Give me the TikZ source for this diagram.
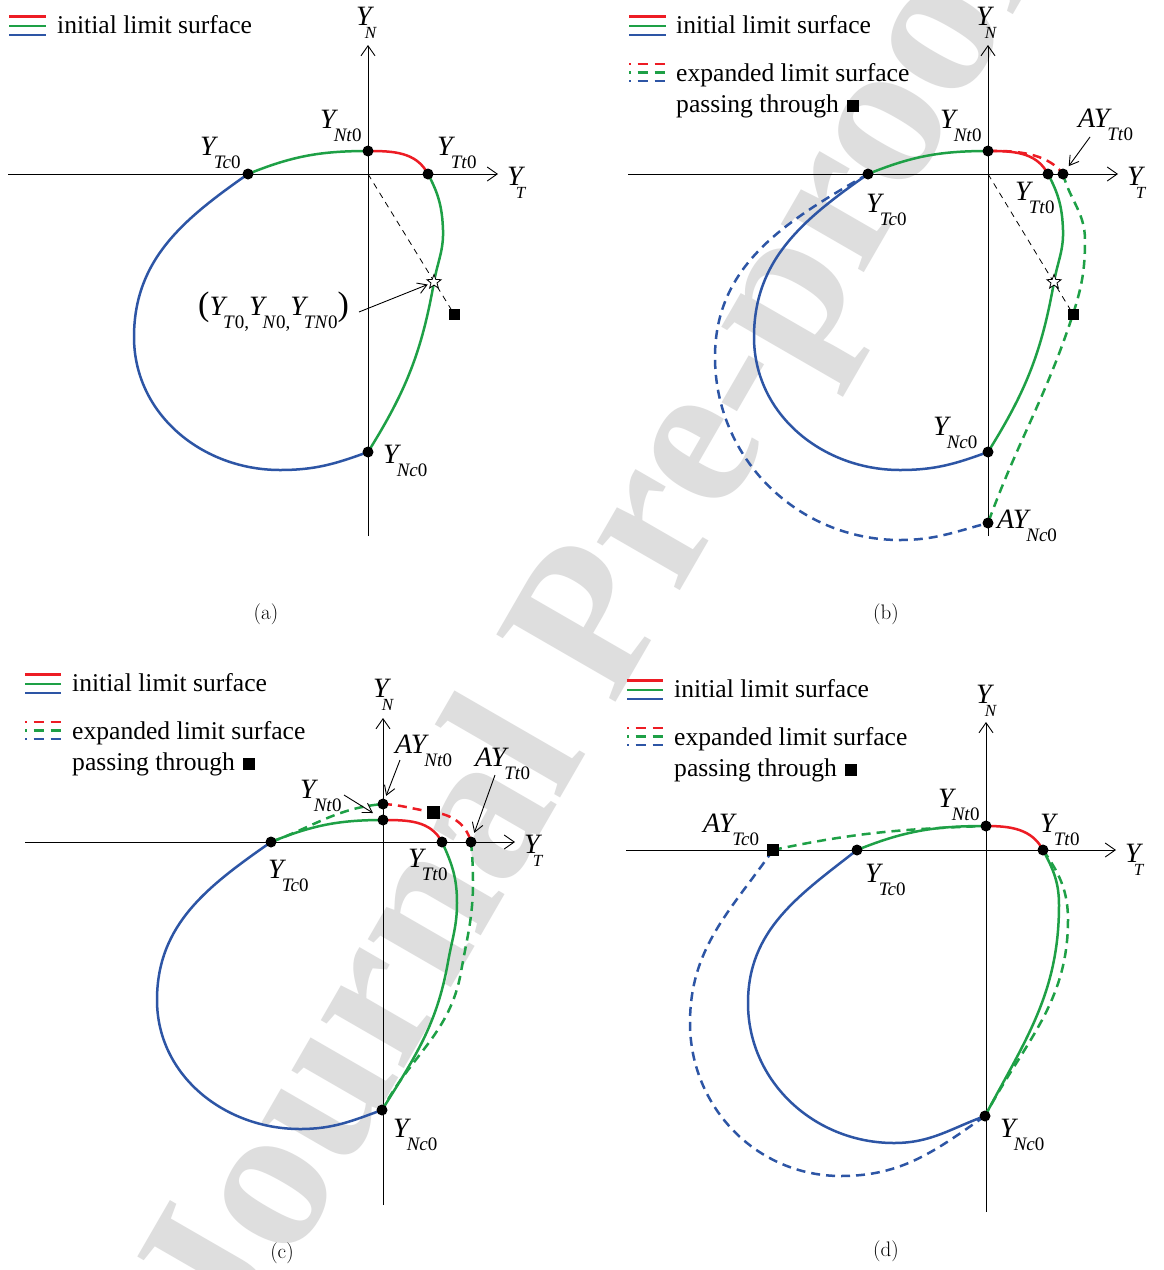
\documentclass[tikz,border=0pt]{standalone}
\usepackage{fontspec}
\newfontfamily\tnr{Liberation Serif}
\usetikzlibrary{arrows.meta,shapes.geometric}
\definecolor{cR}{RGB}{237,28,36}
\definecolor{cG}{RGB}{30,160,70}
\definecolor{cB}{RGB}{45,85,165}
\newcommand\lbl[3]{{\fontsize{28}{28}\selectfont\itshape #1Y}\kern#3\raisebox{-13pt}{\fontsize{19}{19}\selectfont #2}}
\newcommand\axl[1]{{\fontsize{28}{28}\selectfont\itshape Y}\kern-7pt\raisebox{-13pt}{\fontsize{17}{17}\selectfont\itshape #1}}
\begin{document}
\begin{tikzpicture}[x=1pt,y=1pt,
  ax/.style={line width=0.9pt,-{Straight Barb[length=10pt,width=14pt]}},
  pt/.style={circle,fill=black,inner sep=0pt,minimum size=11pt},
  sq/.style={rectangle,fill=black,inner sep=0pt,minimum size=11pt},
  cv/.style={line width=2.5pt},
  dcv/.style={line width=2.5pt,dash pattern=on 9pt off 6pt},
  lab/.style={anchor=base west,inner sep=0pt,font=\tnr},
  txt/.style={anchor=base west,inner sep=0pt,font=\tnr\fontsize{25.6}{30}\selectfont},
  capt/.style={inner sep=0pt,font=\fontsize{21}{21}\selectfont},
  ptr/.style={line width=0.9pt,-{Straight Barb[length=9pt,width=11pt]}},
  guide/.style={line width=0.8pt,dash pattern=on 6pt off 5pt},
  starn/.style={star,star points=5,star point ratio=2.4,draw,fill=white,inner sep=0pt,minimum size=15pt,line width=0.8pt},
  leg/.style={line width=2.5pt},
  dleg/.style={line width=2.5pt,dash pattern=on 10.5pt off 6.5pt,dash phase=8.5pt}
]
\fill[white] (0,0) rectangle (1163,-1270);
\useasboundingbox (0,0) rectangle (1163,-1270);
% watermark
\node[rotate=60,anchor=base west,inner sep=0pt,text=black!13,font=\tnr\bfseries\fontsize{209}{209}\selectfont] (wm) at (239,-1355) {Journal Pre-proof};

% ================= panel (a)
\begin{scope}[shift={(368,-174)}]
  \coordinate (aO) at (0,0);
  \coordinate (aNt) at (0,23);
  \coordinate (aTt) at (60,0);
  \coordinate (aTc) at (-120,0);
  \coordinate (aNc) at (0,-278);
  \coordinate (aStc) at (66,-108);
  \coordinate (aHl) at (-360,0); \coordinate (aHr) at (130,0);
  \coordinate (aVb) at (0,-362); \coordinate (aVt) at (0,129);
  \draw[ax] (aHl) -- (aHr);
  \draw[ax] (aVb) -- (aVt);
  \node[sq] (aSq) at (86,-140) {};
  \draw[guide] (aO) -- (aSq.center);
  \draw[cv,cR] (aNt) to[out=0,in=118] (aTt);
  \draw[cv,cG] (aTc) to[out=22,in=180] (aNt);
  \draw[cv,cG] (aTt) to[out=-62,in=92] (75,-56) to[out=-88,in=80] (aStc) to[out=-100,in=58] (aNc);
  \draw[cv,cB] (aTc) to[out=215,in=90] (-234,-163) to[out=-90,in=180] (-88,-296) to[out=0,in=200] (aNc);
  \node[starn] (aSt) at (aStc) {};
  \node[pt] (aNtd) at (aNt) {};
  \node[pt] (aTtd) at (aTt) {};
  \node[pt] (aTcd) at (aTc) {};
  \node[pt] (aNcd) at (aNc) {};
\end{scope}
\draw[leg,cR] (9,-16.5) -- (46,-16.5);
\draw[leg,cG] (9,-26) -- (46,-26);
\draw[leg,cB] (9,-35) -- (46,-35);
\node[txt] (aL1) at (57,-33) {initial limit surface};
\node[lab] (aYN) at (356,-25) {\axl{N}};
\node[lab] (aYT) at (507,-185) {\axl{T}};
\node[lab] (aYNt) at (320,-128) {\lbl{}{\textit{Nt}0}{-2pt}};
\node[lab] (aYTc) at (200,-155) {\lbl{}{\textit{Tc}0}{-2pt}};
\node[lab] (aYTt) at (437,-155) {\lbl{}{\textit{Tt}0}{-2pt}};
\node[lab] (aYNc) at (383,-463) {\lbl{}{\textit{Nc}0}{-2pt}};
\node[lab] (aTup) at (198,-315) {{\fontsize{34}{34}\selectfont(}\lbl{}{\textit{T}0,}{-2pt}\lbl{}{\textit{N}0,}{-2pt}\lbl{}{\textit{TN}0}{-2pt}{\fontsize{34}{34}\selectfont)}};
\coordinate (aTupA) at (359,-312);
\draw[ptr,shorten >=3pt] (aTupA) -- (aSt);
\node[capt] (aCap) at (266,-614) {(a)};

% ================= panel (b)
\begin{scope}[shift={(988,-174)}]
  \coordinate (bO) at (0,0);
  \coordinate (bNt) at (0,23);
  \coordinate (bTt) at (60,0);
  \coordinate (bATt) at (75,0);
  \coordinate (bTc) at (-120,0);
  \coordinate (bNc) at (0,-278);
  \coordinate (bANc) at (0,-349);
  \coordinate (bStc) at (66,-108);
  \coordinate (bSqc) at (85,-140);
  \coordinate (bHl) at (-360,0); \coordinate (bHr) at (130,0);
  \coordinate (bVb) at (0,-362); \coordinate (bVt) at (0,129);
  \draw[ax] (bHl) -- (bHr);
  \draw[ax] (bVb) -- (bVt);
  \node[sq] (bSq) at (bSqc) {};
  \draw[guide] (bO) -- (bSq.center);
  \draw[dcv,cR] (bNt) .. controls (35,24) and (62,18) .. (bATt);
  \draw[dcv,cG] (bATt) to[out=-75,in=90] (97,-66) to[out=-90,in=72] (bSqc) to[out=-108,in=70] (bANc);
  \draw[dcv,cB] (bTc) to[out=210,in=90] (-273,-183) to[out=-90,in=180] (-88,-366) to[out=0,in=195] (bANc);
  \draw[cv,cR] (bNt) to[out=0,in=118] (bTt);
  \draw[cv,cG] (bTc) to[out=22,in=180] (bNt);
  \draw[cv,cG] (bTt) to[out=-62,in=92] (75,-56) to[out=-88,in=80] (bStc) to[out=-100,in=58] (bNc);
  \draw[cv,cB] (bTc) to[out=215,in=90] (-234,-163) to[out=-90,in=180] (-88,-296) to[out=0,in=200] (bNc);
  \node[sq] (bSq2) at (bSqc) {};
  \node[starn] (bSt) at (bStc) {};
  \node[pt] (bNtd) at (bNt) {};
  \node[pt] (bTtd) at (bTt) {};
  \node[pt] (bATtd) at (bATt) {};
  \node[pt] (bTcd) at (bTc) {};
  \node[pt] (bNcd) at (bNc) {};
  \node[pt] (bANcd) at (bANc) {};
\end{scope}
\draw[leg,cR] (629,-16.5) -- (666,-16.5);
\draw[leg,cG] (629,-26) -- (666,-26);
\draw[leg,cB] (629,-35) -- (666,-35);
\draw[dleg,cR] (629,-64) -- (666,-64);
\draw[dleg,cG] (629,-72.5) -- (666,-72.5);
\draw[dleg,cB] (629,-81) -- (666,-81);
\node[txt] (bL1) at (676,-33) {initial limit surface};
\node[txt] (bL2) at (676,-81) {expanded limit surface};
\node[txt] (bL3) at (676,-112) {passing through\hspace{8pt}\rule{12pt}{12pt}};
\node[lab] (bYN) at (976,-25) {\axl{N}};
\node[lab] (bYT) at (1127,-185) {\axl{T}};
\node[lab] (bYNt) at (940,-128) {\lbl{}{\textit{Nt}0}{-2pt}};
\node[lab] (bAYTt) at (1078,-127) {\lbl{\textit{A}}{\textit{Tt}0}{-2pt}};
\node[lab] (bYTt) at (1015,-200) {\lbl{}{\textit{Tt}0}{-2pt}};
\node[lab] (bYTc) at (866,-212) {\lbl{}{\textit{Tc}0}{-2pt}};
\node[lab] (bYNc) at (933,-435) {\lbl{}{\textit{Nc}0}{-2pt}};
\node[lab] (bAYNc) at (997,-528) {\lbl{\textit{A}}{\textit{Nc}0}{-2pt}};
\coordinate (bAYTtA) at (1090,-137);
\draw[ptr,shorten >=4pt] (bAYTtA) -- (bATtd);
\node[capt] (bCap) at (886,-614) {(b)};

% ================= panel (c)
\begin{scope}[shift={(383,-842)}]
  \coordinate (cNt) at (0,22);
  \coordinate (cANt) at (0,38);
  \coordinate (cTt) at (59,0);
  \coordinate (cATt) at (88,0);
  \coordinate (cTc) at (-112,0);
  \coordinate (cNc) at (-1,-268);
  \coordinate (cSqc) at (50,30);
  \coordinate (cTip) at (-10,29);
  \coordinate (cHl) at (-358,0); \coordinate (cHr) at (132,0);
  \coordinate (cVb) at (0,-363); \coordinate (cVt) at (0,124);
  \draw[ax] (cHl) -- (cHr);
  \draw[ax] (cVb) -- (cVt);
  \draw[dcv,cG] (cTc) to[out=20,in=185] (cANt);
  \draw[dcv,cR] (cANt) to[out=-3,in=172] (cSqc) to[out=-8,in=105] (cATt);
  \draw[dcv,cG] (cATt) to[out=-85,in=90] (90,-40) to[out=-90,in=80] (78,-130) to[out=-100,in=62] (cNc);
  \draw[cv,cR] (cNt) to[out=0,in=118] (cTt);
  \draw[cv,cG] (cTc) to[out=22,in=180] (cNt);
  \draw[cv,cG] (cTt) to[out=-65,in=90] (74,-61) to[out=-90,in=80] (65,-120) to[out=-100,in=58] (cNc);
  \draw[cv,cB] (cTc) to[out=215,in=90] (-226,-158) to[out=-90,in=180] (-83,-287) to[out=0,in=200] (cNc);
  \node[sq,minimum size=13pt] (cSq) at (cSqc) {};
  \node[pt] (cNtd) at (cNt) {};
  \node[pt] (cANtd) at (cANt) {};
  \node[pt] (cTtd) at (cTt) {};
  \node[pt] (cATtd) at (cATt) {};
  \node[pt] (cTcd) at (cTc) {};
  \node[pt] (cNcd) at (cNc) {};
\end{scope}
\draw[leg,cR] (25,-674.5) -- (61,-674.5);
\draw[leg,cG] (25,-684) -- (61,-684);
\draw[leg,cB] (25,-693) -- (61,-693);
\draw[dleg,cR] (25,-722) -- (61,-722);
\draw[dleg,cG] (25,-730.5) -- (61,-730.5);
\draw[dleg,cB] (25,-739) -- (61,-739);
\node[txt] (cL1) at (72,-691) {initial limit surface};
\node[txt] (cL2) at (72,-739) {expanded limit surface};
\node[txt] (cL3) at (72,-770) {passing through\hspace{8pt}\rule{12pt}{12pt}};
\node[lab] (cYN) at (373,-697) {\axl{N}};
\node[lab] (cYT) at (524,-853) {\axl{T}};
\node[lab] (cAYNt) at (395,-753) {\lbl{\textit{A}}{\textit{Nt}0}{-2pt}};
\node[lab] (cAYTt) at (475,-766) {\lbl{\textit{A}}{\textit{Tt}0}{-2pt}};
\node[lab] (cYNt) at (300,-798) {\lbl{}{\textit{Nt}0}{-2pt}};
\node[lab] (cYTt) at (408,-867) {\lbl{}{\textit{Tt}0}{-2pt}};
\node[lab] (cYTc) at (268,-878) {\lbl{}{\textit{Tc}0}{-2pt}};
\node[lab] (cYNc) at (393,-1137) {\lbl{}{\textit{Nc}0}{-2pt}};
\coordinate (cAYNtA) at (400,-760);
\coordinate (cAYTtA) at (495,-775);
\coordinate (cYNtA) at (344,-795);
\draw[ptr,shorten >=3pt] (cAYNtA) -- (cANtd);
\draw[ptr,shorten >=4pt] (cAYTtA) -- (cATtd);
\draw[ptr] (cYNtA) -- (cTip);
\node[capt] (cCap) at (282,-1253) {(c)};

% ================= panel (d)
\begin{scope}[shift={(986,-850)}]
  \coordinate (dNt) at (0,24);
  \coordinate (dTt) at (57,0);
  \coordinate (dTc) at (-129,0);
  \coordinate (dNc) at (-1,-266);
  \coordinate (dSqc) at (-213,0);
  \coordinate (dHl) at (-360,0); \coordinate (dHr) at (130,0);
  \coordinate (dVb) at (0,-362); \coordinate (dVt) at (0,128);
  \draw[ax] (dHl) -- (dHr);
  \draw[ax] (dVb) -- (dVt);
  \draw[dcv,cG] (dSqc) to[out=12,in=182] (dNt);
  \draw[dcv,cG] (dTt) to[out=-55,in=90] (82,-70) to[out=-90,in=62] (dNc);
  \draw[dcv,cB] (dSqc) to[out=235,in=90] (-296,-173) to[out=-90,in=180] (-145,-326) to[out=0,in=215] (dNc);
  \draw[cv,cR] (dNt) to[out=0,in=118] (dTt);
  \draw[cv,cG] (dTc) to[out=22,in=180] (dNt);
  \draw[cv,cG] (dTt) to[out=-62,in=90] (73,-55) to[out=-90,in=62] (dNc);
  \draw[cv,cB] (dTc) to[out=218,in=90] (-238,-153) to[out=-90,in=180] (-92,-293) to[out=0,in=200] (dNc);
  \node[sq,minimum size=12.5pt] (dSq) at (dSqc) {};
  \node[pt] (dNtd) at (dNt) {};
  \node[pt] (dTtd) at (dTt) {};
  \node[pt] (dTcd) at (dTc) {};
  \node[pt] (dNcd) at (dNc) {};
\end{scope}
\draw[leg,cR] (627,-680.5) -- (663,-680.5);
\draw[leg,cG] (627,-690) -- (663,-690);
\draw[leg,cB] (627,-699) -- (663,-699);
\draw[dleg,cR] (627,-728) -- (663,-728);
\draw[dleg,cG] (627,-736.5) -- (663,-736.5);
\draw[dleg,cB] (627,-745) -- (663,-745);
\node[txt] (dL1) at (674,-697) {initial limit surface};
\node[txt] (dL2) at (674,-745) {expanded limit surface};
\node[txt] (dL3) at (674,-776) {passing through\hspace{8pt}\rule{12pt}{12pt}};
\node[lab] (dYN) at (976,-703) {\axl{N}};
\node[lab] (dYT) at (1125,-862) {\axl{T}};
\node[lab] (dYNt) at (938,-807) {\lbl{}{\textit{Nt}0}{-2pt}};
\node[lab] (dYTt) at (1040,-832) {\lbl{}{\textit{Tt}0}{-2pt}};
\node[lab] (dAYTc) at (703,-832) {\lbl{\textit{A}}{\textit{Tc}0}{-2pt}};
\node[lab] (dYTc) at (865,-882) {\lbl{}{\textit{Tc}0}{-2pt}};
\node[lab] (dYNc) at (1000,-1137) {\lbl{}{\textit{Nc}0}{-2pt}};
\node[capt] (dCap) at (886,-1251) {(d)};
\end{tikzpicture}
\end{document}
